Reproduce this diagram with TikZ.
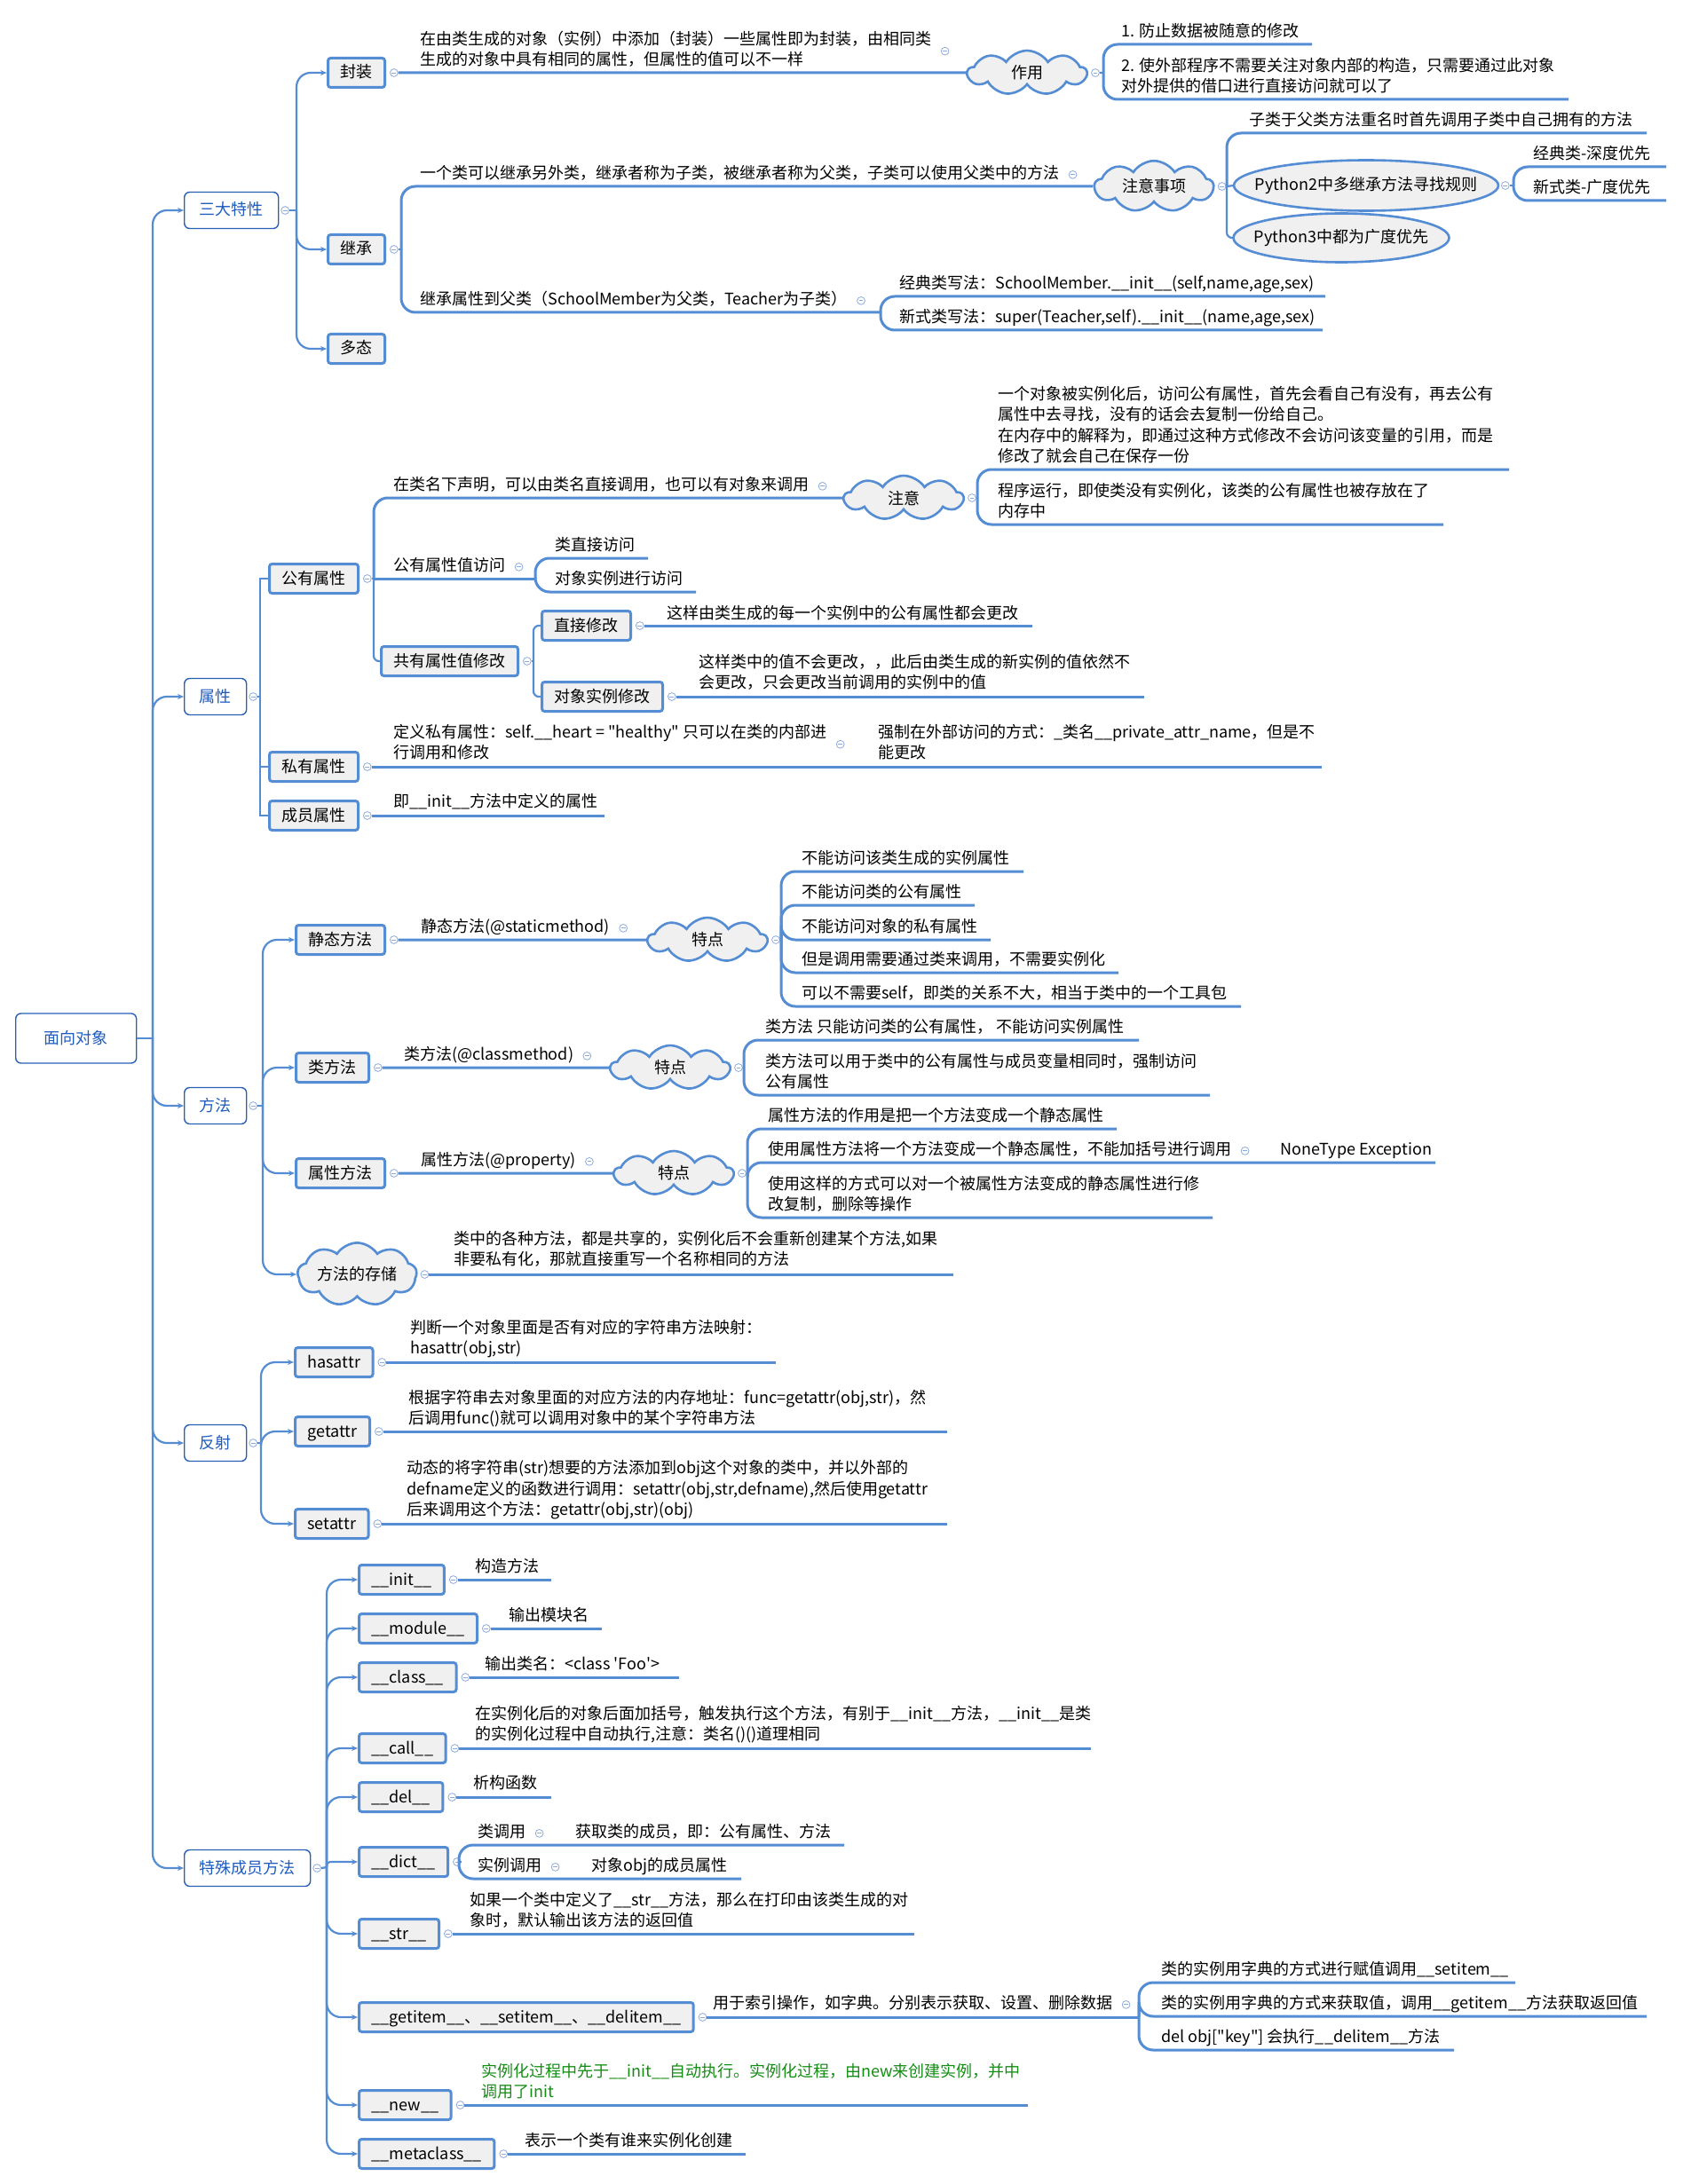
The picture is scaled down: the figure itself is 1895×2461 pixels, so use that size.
\documentclass[tikz,border=0pt]{standalone}
\usepackage{fontspec}
\setmainfont{Noto Sans CJK SC}[Ligatures=TeXOff]
\usepackage{tikz}
\usetikzlibrary{shapes.symbols,shapes.geometric,positioning}
\usetikzlibrary{calc,arrows.meta}
\definecolor{linec}{RGB}{84,141,212}
\definecolor{boxc}{RGB}{40,96,182}
\definecolor{titc}{RGB}{30,92,190}
\definecolor{grayc}{RGB}{240,240,240}
\definecolor{collc}{RGB}{140,170,220}
\definecolor{greenc}{RGB}{20,140,20}
\newcommand{\mmfont}{\fontsize{9pt}{11.75pt}\selectfont}
\tikzset{
	root/.style={draw=boxc,line width=0.7pt,rounded corners=3pt,fill=white,text=titc,minimum height=28pt,inner xsep=16pt,inner ysep=0pt,anchor=west,text height=7.4pt,text depth=1.4pt},
	topic/.style={draw=boxc,line width=0.7pt,rounded corners=3pt,fill=white,text=titc,minimum height=20.5pt,inner xsep=8.5pt,inner ysep=0pt,anchor=west,text height=7.4pt,text depth=1.4pt},
	sub/.style={draw=linec,line width=1.5pt,rounded corners=1.5pt,fill=grayc,minimum height=16.5pt,inner xsep=7pt,inner ysep=0pt,anchor=west,text height=7.4pt,text depth=1.4pt},
	leaf/.style={anchor=south west,inner sep=0pt,align=left},
	bubble/.style={cloud,cloud puffs=9,cloud puff arc=115,aspect=2.7,draw=linec,line width=1.3pt,fill=grayc,inner sep=1pt,minimum width=67pt,minimum height=25pt},
	ovalline/.style={draw=linec,line width=1.3pt,fill=grayc},
	coll/.style={circle,draw=collc,fill=white,line width=0.4pt,minimum size=4.4pt,inner sep=0pt,
		path picture={\draw[collc,line width=0.4pt] ([xshift=-1.2pt]path picture bounding box.center) -- ([xshift=1.2pt]path picture bounding box.center);}},
	link/.style={draw=linec,line width=1.1pt,rounded corners=8pt},
	elbow/.style={link,sharp corners},
	uline/.style={draw=linec,line width=1.5pt,rounded corners=8pt},
	tip/.style={-{Stealth[length=3.5pt,width=3pt]}}
}

\begin{document}
\begin{tikzpicture}[x=0.5pt,y=-0.5pt,font=\mmfont]
\fill[white] (0,0) rectangle (1895,2461);
\useasboundingbox (0,0) rectangle (1895,2461);

%Centre
\node[root] (oop) at (17,1170) {面向对象};
\coordinate (jR) at (172,1170);
\draw[link] (oop.east) -- (jR);

%Branches principales
\node[topic] (tsd) at (207,237) {三大特性};
\node[topic] (tsx) at (207,785) {属性};
\node[topic] (tff) at (207,1246) {方法};
\node[topic] (tfs) at (207,1626) {反射};
\node[topic] (tts) at (207,2105) {特殊成员方法};
\foreach \t in {tsd,tsx,tff,tfs,tts}
	\draw[link,tip] (jR) |- (\t.west);

%三大特性
\node[coll,right=1pt of tsd] (ctsd) {};
\coordinate (jsd) at (334,237);
\draw[link] (ctsd.east) -- (jsd);
\node[sub] (fz) at (368,82) {封装};
\node[sub] (jc) at (368,281) {继承};
\node[sub] (dt) at (368,393) {多态};
\foreach \s in {fz,jc,dt}
	\draw[link,tip] (jsd) |- (\s.west);

%封装
\node[coll,right=2pt of fz] (cfz) {};
\node[leaf] (lfz) at (473,81) {在由类生成的对象（实例）中添加（封装）一些属性即为封装，由相同类\\生成的对象中具有相同的属性，但属性的值可以不一样\strut};
\node[coll,right=5pt of lfz] (clfz) {};
\node[bubble] (zy) at (1157,82) {作用};
\draw[uline] (cfz.east) -- (zy.west);
\node[coll,right=1.5pt of zy] (czy) {};
\coordinate (jzy) at (1243,82);
\draw[link] (czy.east) -- (jzy);
\node[leaf] (zy1) at (1263,49) {1. 防止数据被随意的修改\strut};
\coordinate (zy1e) at (1478,50);
\node[leaf] (zy2) at (1263,111) {2. 使外部程序不需要关注对象内部的构造，只需要通过此对象\\对外提供的借口进行直接访问就可以了\strut};
\coordinate (zy2e) at (1767,112);
\draw[uline] (jzy) |- (zy1e);
\draw[uline] (jzy) |- (zy2e);

%继承
\node[coll,right=2pt of jc] (cjc) {};
\coordinate (jjc) at (452,281);
\draw[link] (cjc.east) -- (jjc);
\node[leaf] (jc1) at (473,209) {一个类可以继承另外类，继承者称为子类，被继承者称为父类，子类可以使用父类中的方法\strut};
\node[coll,right=5pt of jc1] (cjc1) {};
\node[bubble] (zysx) at (1300,210) {注意事项};
\draw[uline] (jjc) |- (zysx.west);
\node[coll,right=1.5pt of zysx] (czysx) {};
\coordinate (jzysx) at (1382,210);
\draw[link] (czysx.east) -- (jzysx);
\node[leaf] (zs1) at (1407,149) {子类于父类方法重名时首先调用子类中自己拥有的方法\strut};
\coordinate (zs1e) at (1855,150);
\draw[uline] (jzysx) |- (zs1e);
\coordinate (py2c) at (1539,209);
\coordinate (py2w) at (1390,209);
\coordinate (py2e) at (1688,209);
\filldraw[ovalline] (py2c) ellipse [x radius=149,y radius=28.5];
\node (py2) at (py2c) {Python2中多继承方法寻找规则};
\coordinate (py3c) at (1511,268);
\coordinate (py3w) at (1390,268);
\filldraw[ovalline] (py3c) ellipse [x radius=121.5,y radius=27.5];
\node (py3) at (py3c) {Python3中都为广度优先};
\draw[link] (jzysx) -- (py2w);
\draw[link,rounded corners=3pt] (jzysx) |- (py3w);
\node[coll,right=1.5pt of py2e] (cpy2) {};
\coordinate (jpy2) at (1705,209);
\draw[link] (cpy2.east) -- (jpy2);
\node[leaf] (py2a) at (1727,187) {经典类-深度优先\strut};
\coordinate (py2ae) at (1877,188);
\node[leaf] (py2b) at (1727,225) {新式类-广度优先\strut};
\coordinate (py2be) at (1877,226);
\draw[uline] (jpy2) |- (py2ae);
\draw[uline] (jpy2) |- (py2be);

\node[leaf] (jc2) at (473,351) {继承属性到父类（SchoolMember为父类，Teacher为子类）\strut};
\node[coll,right=5pt of jc2] (cjc2) {};
\coordinate (kjc2) at (992,352);
\draw[uline] (jjc) |- (kjc2);
\node[leaf] (jc2a) at (1013,333) {经典类写法：SchoolMember.\_\_init\_\_(self,name,age,sex)\strut};
\coordinate (jc2ae) at (1493,334);
\node[leaf] (jc2b) at (1013,371) {新式类写法：super(Teacher,self).\_\_init\_\_(name,age,sex)\strut};
\coordinate (jc2be) at (1490,372);
\draw[uline] (kjc2) |- (jc2ae);
\draw[uline] (kjc2) |- (jc2be);

%属性
\node[coll,right=1pt of tsx] (ctsx) {};
\coordinate (jsx) at (293,785);
\draw[elbow] (ctsx.east) -- (jsx);
\node[sub] (gy) at (302,652) {公有属性};
\node[sub] (sy) at (302,864) {私有属性};
\node[sub] (cy) at (302,919) {成员属性};
\foreach \s in {gy,sy,cy}
	\draw[elbow] (jsx) |- (\s.west);

%公有属性
\node[coll,right=2pt of gy] (cgy) {};
\coordinate (jgy) at (421,652);
\draw[link] (cgy.east) -- (jgy);
\node[leaf] (gy1) at (443,560) {在类名下声明，可以由类名直接调用，也可以有对象来调用\strut};
\node[coll,right=5pt of gy1] (cgy1) {};
\node[bubble] (zy3) at (1018,561) {注意};
\draw[uline] (jgy) |- (zy3.west);
\node[coll,right=1.5pt of zy3] (czy3) {};
\coordinate (jzy3) at (1101,561);
\draw[link] (czy3.east) -- (jzy3);
\node[leaf] (zy3a) at (1124,528) {一个对象被实例化后，访问公有属性，首先会看自己有没有，再去公有\\属性中去寻找，没有的话会去复制一份给自己。\\在内存中的解释为，即通过这种方式修改不会访问该变量的引用，而是\\修改了就会自己在保存一份\strut};
\coordinate (zy3ae) at (1700,529);
\node[leaf] (zy3b) at (1124,590) {程序运行，即使类没有实例化，该类的公有属性也被存放在了\\内存中\strut};
\coordinate (zy3be) at (1626,591);
\draw[uline] (jzy3) |- (zy3ae);
\draw[uline] (jzy3) |- (zy3be);

\node[leaf] (gy2) at (443,651) {公有属性值访问\strut};
\node[coll,right=5pt of gy2] (cgy2) {};
\coordinate (kgy2) at (603,652);
\draw[uline] (jgy) -- (kgy2);
\node[leaf] (gy2a) at (625,628) {类直接访问\strut};
\coordinate (gy2ae) at (730,629);
\node[leaf] (gy2b) at (625,666) {对象实例进行访问\strut};
\coordinate (gy2be) at (784,667);
\draw[uline] (kgy2) |- (gy2ae);
\draw[uline] (kgy2) |- (gy2be);

\node[sub] (gyx) at (428,745) {共有属性值修改};
\draw[link,rounded corners=3pt] (jgy) |- (gyx.west);
\node[coll,right=2pt of gyx] (cgyx) {};
\coordinate (jgyx) at (601,745);
\draw[link] (cgyx.east) -- (jgyx);
\node[sub] (zjxg) at (609,705) {直接修改};
\node[sub] (dxxg) at (609,785) {对象实例修改};
\draw[link,rounded corners=3pt] (jgyx) |- (zjxg.west);
\draw[link,rounded corners=3pt] (jgyx) |- (dxxg.west);
\node[coll,right=2pt of zjxg] (czjxg) {};
\node[leaf] (zjxg1) at (751,705) {这样由类生成的每一个实例中的公有属性都会更改\strut};
\coordinate (zjxg1e) at (1163,706);
\draw[uline] (czjxg.east) -- (czjxg.east -| zjxg1e);
\node[coll,right=2pt of dxxg] (cdxxg) {};
\node[leaf] (dxxg1) at (787,783) {这样类中的值不会更改，，此后由类生成的新实例的值依然不\\会更改，只会更改当前调用的实例中的值\strut};
\coordinate (dxxg1e) at (1289,784);
\draw[uline] (cdxxg.east) -- (cdxxg.east -| dxxg1e);

%私有属性
\node[coll,right=2pt of sy] (csy) {};
\node[leaf] (sy1) at (443,862) {定义私有属性：self.\_\_heart = "healthy" 只可以在类的内部进\\行调用和修改\strut};
\node[coll,right=5pt of sy1] (csy1) {};
\node[leaf] (sy2) at (989,862) {强制在外部访问的方式：\_类名\_\_private\_attr\_name，但是不\\能更改\strut};
\coordinate (sy2e) at (1489,863);
\draw[uline] (csy.east) -- (csy.east -| sy2e);

%成员属性
\node[coll,right=2pt of cy] (ccy) {};
\node[leaf] (cy1) at (443,917) {即\_\_init\_\_方法中定义的属性\strut};
\coordinate (cy1e) at (681,918);
\draw[uline] (ccy.east) -- (ccy.east -| cy1e);

%方法
\node[coll,right=1pt of tff] (ctff) {};
\coordinate (jff) at (296,1246);
\draw[link] (ctff.east) -- (jff);
\node[sub] (jtff) at (332,1059) {静态方法};
\node[sub] (lff) at (332,1203) {类方法};
\node[sub] (sxff) at (332,1322) {属性方法};
\node[bubble,anchor=west] (ffcc) at (334,1436) {方法的存储};
\foreach \s in {jtff,lff,sxff,ffcc}
	\draw[link,tip] (jff) |- (\s.west);

%静态方法
\node[coll,right=2pt of jtff] (cjtff) {};
\node[leaf] (jtff1) at (474,1058) {静态方法(@staticmethod)\strut};
\node[coll,right=5pt of jtff1] (cjtff1) {};
\node[bubble] (td1) at (797,1059) {特点};
\draw[uline] (cjtff.east) -- (td1.west);
\node[coll,right=1.5pt of td1] (ctd1) {};
\coordinate (jtd1) at (880,1059);
\draw[link] (ctd1.east) -- (jtd1);
\node[leaf] (td1a) at (903,981) {不能访问该类生成的实例属性\strut};
\coordinate (td1ae) at (1153,982);
\node[leaf] (td1b) at (903,1019) {不能访问类的公有属性\strut};
\coordinate (td1be) at (1098,1020);
\node[leaf] (td1c) at (903,1058) {不能访问对象的私有属性\strut};
\coordinate (td1ce) at (1116,1059);
\node[leaf] (td1d) at (903,1095) {但是调用需要通过类来调用，不需要实例化\strut};
\coordinate (td1de) at (1260,1096);
\node[leaf] (td1f) at (903,1133) {可以不需要self，即类的关系不大，相当于类中的一个工具包\strut};
\coordinate (td1fe) at (1398,1134);
\foreach \e in {td1ae,td1be,td1ce,td1de,td1fe}
	\draw[uline] (jtd1) |- (\e);

%类方法
\node[coll,right=2pt of lff] (clff) {};
\node[leaf] (lff1) at (455,1202) {类方法(@classmethod)\strut};
\node[coll,right=5pt of lff1] (clff1) {};
\node[bubble] (td2) at (755,1203) {特点};
\draw[uline] (clff.east) -- (td2.west);
\node[coll,right=1.5pt of td2] (ctd2) {};
\coordinate (jtd2) at (838,1203);
\draw[link] (ctd2.east) -- (jtd2);
\node[leaf] (td2a) at (862,1171) {类方法 只能访问类的公有属性， 不能访问实例属性\strut};
\coordinate (td2ae) at (1283,1172);
\node[leaf] (td2b) at (862,1233) {类方法可以用于类中的公有属性与成员变量相同时，强制访问\\公有属性\strut};
\coordinate (td2be) at (1363,1234);
\draw[uline] (jtd2) |- (td2ae);
\draw[uline] (jtd2) |- (td2be);

%属性方法
\node[coll,right=2pt of sxff] (csxff) {};
\node[leaf] (sxff1) at (474,1321) {属性方法(@property)\strut};
\node[coll,right=5pt of sxff1] (csxff1) {};
\node[bubble] (td3) at (759,1322) {特点};
\draw[uline] (csxff.east) -- (td3.west);
\node[coll,right=1.5pt of td3] (ctd3) {};
\coordinate (jtd3) at (842,1322);
\draw[link] (ctd3.east) -- (jtd3);
\node[leaf] (td3a) at (865,1271) {属性方法的作用是把一个方法变成一个静态属性\strut};
\coordinate (td3ae) at (1258,1272);
\node[leaf] (td3b) at (865,1309) {使用属性方法将一个方法变成一个静态属性，不能加括号进行调用\strut};
\node[coll,right=5pt of td3b] (ctd3b) {};
\node[leaf] (td3b1) at (1442,1309) {NoneType Exception\strut};
\coordinate (td3be) at (1617,1310);
\node[leaf] (td3c) at (865,1371) {使用这样的方式可以对一个被属性方法变成的静态属性进行修\\改复制，删除等操作\strut};
\coordinate (td3ce) at (1366,1372);
\foreach \e in {td3ae,td3be,td3ce}
	\draw[uline] (jtd3) |- (\e);

%方法的存储
\node[coll,right=1.5pt of ffcc] (cffcc) {};
\node[leaf] (ffcc1) at (511,1433) {类中的各种方法，都是共享的，实例化后不会重新创建某个方法,如果\\非要私有化，那就直接重写一个名称相同的方法\strut};
\coordinate (ffcc1e) at (1074,1434);
\draw[uline] (cffcc.east) -- (cffcc.east -| ffcc1e);

%反射
\node[coll,right=1pt of tfs] (ctfs) {};
\coordinate (jfs) at (294,1626);
\draw[link] (ctfs.east) -- (jfs);
\node[sub] (has) at (331,1535) {hasattr};
\node[sub] (get) at (331,1613) {getattr};
\node[sub] (set) at (331,1717) {setattr};
\foreach \s in {has,get,set}
	\draw[link,tip] (jfs) |- (\s.west);
\node[coll,right=2pt of has] (chas) {};
\node[leaf] (has1) at (462,1533) {判断一个对象里面是否有对应的字符串方法映射：\\hasattr(obj,str)\strut};
\coordinate (has1e) at (874,1534);
\draw[uline] (chas.east) -- (chas.east -| has1e);
\node[coll,right=2pt of get] (cget) {};
\node[leaf] (get1) at (460,1612) {根据字符串去对象里面的对应方法的内存地址：func=getattr(obj,str)，然\\后调用func()就可以调用对象中的某个字符串方法\strut};
\coordinate (get1e) at (1067,1613);
\draw[uline] (cget.east) -- (cget.east -| get1e);
\node[coll,right=2pt of set] (cset) {};
\node[leaf] (set1) at (458,1715) {动态的将字符串(str)想要的方法添加到obj这个对象的类中，并以外部的\\defname定义的函数进行调用：setattr(obj,str,defname),然后使用getattr\\后来调用这个方法：getattr(obj,str)(obj)\strut};
\coordinate (set1e) at (1067,1716);
\draw[uline] (cset.east) -- (cset.east -| set1e);

%特殊成员方法
\node[coll,right=1pt of tts] (ctts) {};
\coordinate (jts) at (368,2104);
\draw[link] (ctts.east) -- (jts);
\node[sub] (sinit) at (403,1780) {\_\_init\_\_};
\node[sub] (smod) at (403,1835) {\_\_module\_\_};
\node[sub] (scls) at (403,1890) {\_\_class\_\_};
\node[sub] (scall) at (403,1970) {\_\_call\_\_};
\node[sub] (sdel) at (403,2025) {\_\_del\_\_};
\node[sub] (sdict) at (403,2098) {\_\_dict\_\_};
\node[sub] (sstr) at (403,2179) {\_\_str\_\_};
\node[sub] (sitem) at (403,2273) {\_\_getitem\_\_、\_\_setitem\_\_、\_\_delitem\_\_};
\node[sub] (snew) at (403,2372) {\_\_new\_\_};
\node[sub] (smeta) at (403,2427) {\_\_metaclass\_\_};
\foreach \s in {sinit,smod,scls,scall,sdel,sstr,sitem,snew,smeta}
	\draw[link,tip] (jts) |- (\s.west);
\draw[link,tip,rounded corners=2pt] (jts) |- (sdict.west);

\node[coll,right=2pt of sinit] (csinit) {};
\node[leaf] (sinit1) at (535,1779) {构造方法\strut};
\coordinate (sinit1e) at (621,1780);
\draw[uline] (csinit.east) -- (csinit.east -| sinit1e);

\node[coll,right=2pt of smod] (csmod) {};
\node[leaf] (smod1) at (573,1834) {输出模块名\strut};
\coordinate (smod1e) at (678,1835);
\draw[uline] (csmod.east) -- (csmod.east -| smod1e);

\node[coll,right=2pt of scls] (cscls) {};
\node[leaf] (scls1) at (546,1889) {输出类名：<class \textquotesingle Foo\textquotesingle>\strut};
\coordinate (scls1e) at (765,1890);
\draw[uline] (cscls.east) -- (cscls.east -| scls1e);

\node[coll,right=2pt of scall] (cscall) {};
\node[leaf] (scall1) at (535,1968) {在实例化后的对象后面加括号，触发执行这个方法，有别于\_\_init\_\_方法，\_\_init\_\_是类\\的实例化过程中自动执行,注意：类名()()道理相同\strut};
\coordinate (scall1e) at (1229,1969);
\draw[uline] (cscall.east) -- (cscall.east -| scall1e);

\node[coll,right=2pt of sdel] (csdel) {};
\node[leaf] (sdel1) at (533,2023) {析构函数\strut};
\coordinate (sdel1e) at (621,2024);
\draw[uline] (csdel.east) -- (csdel.east -| sdel1e);

\node[coll,right=2pt of sdict] (csdict) {};
\coordinate (jdict) at (517,2098);
\draw[link] (csdict.east) -- (jdict);
\node[leaf] (sdict1) at (538,2078) {类调用\strut};
\node[coll,right=5pt of sdict1] (csdict1) {};
\node[leaf] (sdict1a) at (648,2078) {获取类的成员，即：公有属性、方法\strut};
\coordinate (sdict1e) at (951,2079);
\node[leaf] (sdict2) at (538,2116) {实例调用\strut};
\node[coll,right=5pt of sdict2] (csdict2) {};
\node[leaf] (sdict2a) at (666,2116) {对象obj的成员属性\strut};
\coordinate (sdict2e) at (835,2117);
\draw[uline] (jdict) |- (sdict1e);
\draw[uline] (jdict) |- (sdict2e);

\node[coll,right=2pt of sstr] (csstr) {};
\node[leaf] (sstr1) at (529,2178) {如果一个类中定义了\_\_str\_\_方法，那么在打印由该类生成的对\\象时，默认输出该方法的返回值\strut};
\coordinate (sstr1e) at (1030,2179);
\draw[uline] (csstr.east) -- (csstr.east -| sstr1e);

\node[coll,right=2pt of sitem] (csitem) {};
\node[leaf] (sitem1) at (803,2271) {用于索引操作，如字典。分别表示获取、设置、删除数据\strut};
\node[coll,right=5pt of sitem1] (csitem1) {};
\coordinate (kitem) at (1283,2272);
\draw[uline] (csitem.east) -- (csitem.east -| kitem);
\node[leaf] (sitema) at (1308,2233) {类的实例用字典的方式进行赋值调用\_\_setitem\_\_\strut};
\coordinate (sitemae) at (1707,2234);
\node[leaf] (sitemb) at (1308,2271) {类的实例用字典的方式来获取值，调用\_\_getitem\_\_方法获取返回值\strut};
\coordinate (sitembe) at (1855,2272);
\node[leaf] (sitemc) at (1308,2309) {del obj["key"] 会执行\_\_delitem\_\_方法\strut};
\coordinate (sitemce) at (1638,2310);
\foreach \e in {sitemae,sitembe,sitemce}
	\draw[uline] (kitem) |- (\e);

\node[coll,right=2pt of snew] (csnew) {};
\node[leaf,text=greenc] (snew1) at (542,2371) {实例化过程中先于\_\_init\_\_自动执行。实例化过程，由new来创建实例，并中\\调用了init\strut};
\coordinate (snew1e) at (1158,2372);
\draw[uline] (csnew.east) -- (csnew.east -| snew1e);

\node[coll,right=2pt of smeta] (csmeta) {};
\node[leaf] (smeta1) at (591,2426) {表示一个类有谁来实例化创建\strut};
\coordinate (smeta1e) at (840,2427);
\draw[uline] (csmeta.east) -- (csmeta.east -| smeta1e);

\end{tikzpicture}
\end{document}
